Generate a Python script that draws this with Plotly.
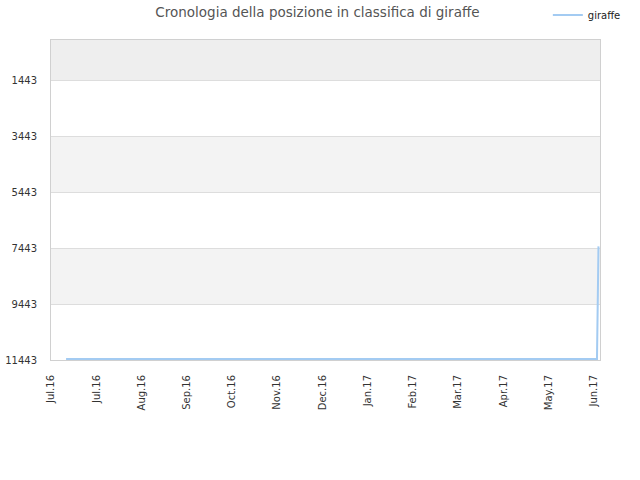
import plotly.graph_objects as go

# ranking history of "giraffe"
dates = ["2016-07-11", "2016-08-15", "2016-09-20", "2016-10-25", "2016-11-30",
         "2017-01-05", "2017-02-10", "2017-03-18", "2017-04-22", "2017-05-28",
         "2017-06-28", "2017-06-29"]
ranks = [11410, 11410, 11410, 11410, 11410, 11410, 11410, 11410, 11410, 11410,
         11410, 7380]

tick_dates = ["2016-07-01", "2016-07-31", "2016-08-30", "2016-09-29", "2016-10-29",
              "2016-11-28", "2016-12-28", "2017-01-27", "2017-02-26", "2017-03-28",
              "2017-04-27", "2017-05-27", "2017-06-26"]
tick_labels = ["Jul.16", "Jul.16", "Aug.16", "Sep.16", "Oct.16", "Nov.16", "Dec.16",
               "Jan.17", "Feb.17", "Mar.17", "Apr.17", "May.17", "Jun.17"]
rank_ticks = [1443, 3443, 5443, 7443, 9443, 11443]

fig = go.Figure()
fig.add_trace(go.Scatter(x=dates, y=ranks, name="giraffe", mode="lines",
                         line=dict(color="#a3cbf2", width=2)))

# alternating background bands
bands = [(1, 1443, "#eeeeee"), (3443, 5443, "#f3f3f3"), (7443, 9443, "#f3f3f3")]
for y0, y1, col in bands:
    fig.add_shape(type="rect", xref="paper", x0=0, x1=1, yref="y", y0=y0, y1=y1,
                  fillcolor=col, line_width=0, layer="below")

fig.update_layout(
    width=640, height=480,
    margin=dict(l=51, r=40, t=40, b=120, autoexpand=False),
    title=dict(text="Cronologia della posizione in classifica di giraffe",
               x=0.496, xanchor="center", y=0.975, yanchor="middle",
               font=dict(family="DejaVu Sans", size=13.5, color="#555555")),
    font=dict(family="DejaVu Sans", size=10, color="#333333"),
    plot_bgcolor="white", paper_bgcolor="white",
    showlegend=True,
    legend=dict(x=0.905, xanchor="left", y=1.078, yanchor="middle",
                font=dict(size=10, color="#222222"), itemwidth=30,
                bgcolor="rgba(0,0,0,0)"),
    xaxis=dict(type="date", range=["2016-07-01", "2017-06-30"],
               tickmode="array", tickvals=tick_dates, ticktext=tick_labels,
               tickangle=-90, showgrid=False, zeroline=False,
               showline=True, linecolor="#d0d0d0", mirror=True,
               ticks="", ticklabelstandoff=10, automargin=False),
    yaxis=dict(range=[11443, 1], tickmode="array", tickvals=rank_ticks,
               ticktext=[str(v) for v in rank_ticks],
               showgrid=True, gridcolor="#dddddd", zeroline=False,
               showline=True, linecolor="#d0d0d0", mirror=True, ticks="",
               ticklabelstandoff=11, automargin=False),
)

# drop the default 8px page margin so the figure sits at the window corner
fig.write_html("out.html", config={"displayModeBar": False},
               post_script="document.body.style.margin='0';")
